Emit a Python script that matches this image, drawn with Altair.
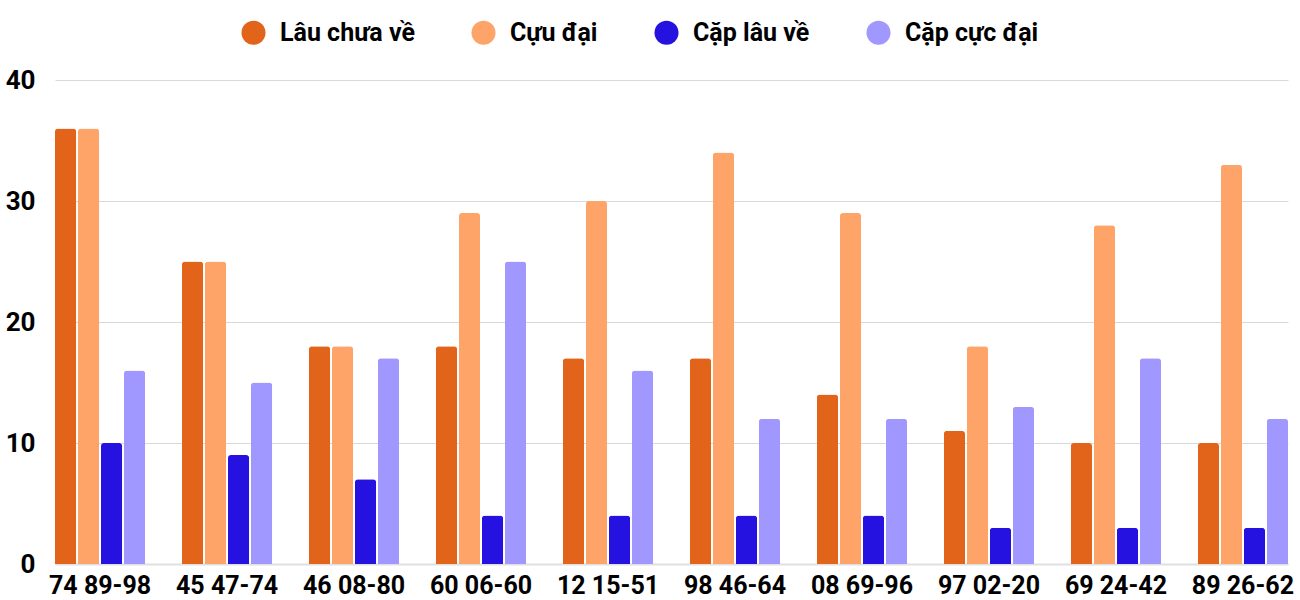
import altair as alt
import pandas as pd

categories = ["74 89-98", "45 47-74", "46 08-80", "60 06-60", "12 15-51",
              "98 46-64", "08 69-96", "97 02-20", "69 24-42", "89 26-62"]
series = ["Lâu chưa về", "Cựu đại", "Cặp lâu về", "Cặp cực đại"]
lau_chua_ve = [36, 25, 18, 18, 17, 17, 14, 11, 10, 10]
cuu_dai = [36, 25, 18, 29, 30, 34, 29, 18, 28, 33]
cap_lau_ve = [10, 9, 7, 4, 4, 4, 4, 3, 3, 3]
cap_cuc_dai = [16, 15, 17, 25, 16, 12, 12, 13, 17, 12]
colors = ["#e2631a", "#ffa469", "#2512e0", "#a098ff"]

rows = []
for name, vals in zip(series, [lau_chua_ve, cuu_dai, cap_lau_ve, cap_cuc_dai]):
    for cat, v in zip(categories, vals):
        rows.append({"category": cat, "series": name, "value": v})
df = pd.DataFrame(rows)

font = "Roboto"

chart = alt.Chart(df).mark_bar(
    cornerRadiusTopLeft=3, cornerRadiusTopRight=3
).encode(
    x=alt.X("category:N", sort=categories, title=None,
            scale=alt.Scale(paddingInner=0.29, paddingOuter=0),
            axis=alt.Axis(labelAngle=0, labelFont=font, labelFontSize=25,
                          labelFontWeight="bold", labelColor="#000000",
                          labelPadding=9, ticks=False, domain=True,
                          domainColor="#e0e0e0", domainWidth=2)),
    xOffset=alt.XOffset("series:N", sort=series,
                        scale=alt.Scale(paddingInner=0.08, paddingOuter=0)),
    y=alt.Y("value:Q", title=None,
            scale=alt.Scale(domain=[0, 40]),
            axis=alt.Axis(values=[0, 10, 20, 30, 40], labelFont=font,
                          labelFontSize=26, labelFontWeight="bold",
                          labelColor="#000000", labelPadding=20,
                          ticks=False, domain=False, gridColor="#d9d9d9",
                          gridWidth=1)),
    color=alt.Color("series:N", sort=series,
                    scale=alt.Scale(domain=series, range=colors),
                    legend=alt.Legend(title=None, orient="none",
                                      direction="horizontal",
                                      legendX=186, legendY=-60,
                                      symbolType="circle", symbolSize=580,
                                      symbolStrokeWidth=0, symbolOpacity=1,
                                      labelFont=font, labelFontSize=25,
                                      labelFontWeight="bold",
                                      labelColor="#000000", labelOffset=14,
                                      columnPadding=56, labelLimit=300)),
).properties(
    width=1233, height=484,
    autosize=alt.AutoSizeParams(type="none"),
    padding={"left": 55, "top": 80, "right": 12, "bottom": 36},
).configure_view(stroke=None)

chart.save("out.html", embed_options={"renderer": "svg", "actions": False})
